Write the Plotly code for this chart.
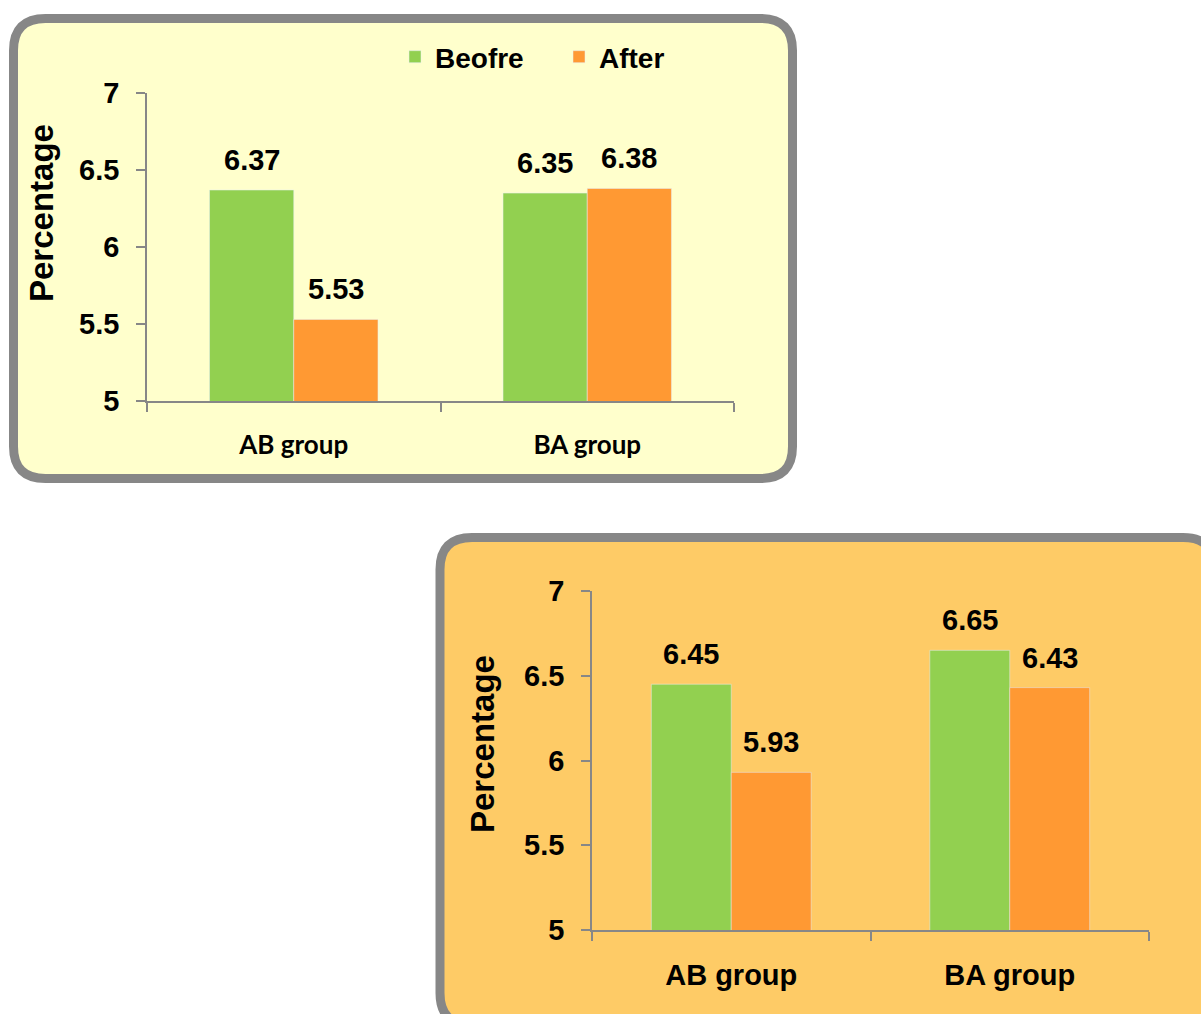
import plotly.graph_objects as go

# Data
groups = ["AB group", "BA group"]
series_names = ["Beofre", "After"]
top_before = [6.37, 6.35]
top_after = [5.53, 6.38]
bottom_before = [6.45, 6.65]
bottom_after = [5.93, 6.43]
y_ticks = [5, 5.5, 6, 6.5, 7]
y_title = "Percentage"

W, H = 1201, 1014
GREEN = "#92D050"
ORANGE = "#FF9933"
GRAY = "#878787"
BAR_GAP = 0.426
FONT = "Liberation Sans, Arial, sans-serif"


def px(x):
    return x / W


def py(y):
    return 1 - y / H


def rounded_rect(x0, y0, x1, y1, r):
    """SVG path (paper coords) for a rounded rectangle given in pixels."""
    pts = [
        f"M {px(x0 + r)},{py(y0)}",
        f"L {px(x1 - r)},{py(y0)}",
        f"Q {px(x1)},{py(y0)} {px(x1)},{py(y0 + r)}",
        f"L {px(x1)},{py(y1 - r)}",
        f"Q {px(x1)},{py(y1)} {px(x1 - r)},{py(y1)}",
        f"L {px(x0 + r)},{py(y1)}",
        f"Q {px(x0)},{py(y1)} {px(x0)},{py(y1 - r)}",
        f"L {px(x0)},{py(y0 + r)}",
        f"Q {px(x0)},{py(y0)} {px(x0 + r)},{py(y0)}",
        "Z",
    ]
    return " ".join(pts)


fig = go.Figure()

panels = [
    ("x", "y", top_before, top_after, True),
    ("x2", "y2", bottom_before, bottom_after, False),
]

for xa, ya, before, after, show in panels:
    fig.add_trace(go.Bar(x=groups, y=before, name=series_names[0], marker_color=GREEN,
                         xaxis=xa, yaxis=ya, showlegend=show, legendgroup="b"))
    fig.add_trace(go.Bar(x=groups, y=after, name=series_names[1], marker_color=ORANGE,
                         xaxis=xa, yaxis=ya, showlegend=show, legendgroup="a"))

# Value labels above each bar
annotations = []
half = (1 - BAR_GAP) / 2
for xa, ya, before, after, _ in panels:
    for j, vals in enumerate([before, after]):
        for i, v in enumerate(vals):
            annotations.append(dict(
                x=i + (j - 0.5) * half, y=v, xref=xa, yref=ya,
                text=f"{v:.2f}", showarrow=False, xanchor="center", yanchor="middle",
                yshift=30,
                font=dict(family=FONT, size=29, color="black", weight="bold"),
            ))

# Rotated axis titles
for cx, cy in [(42, 213), (482, 744)]:
    annotations.append(dict(x=px(cx), y=py(cy), xref="paper", yref="paper", text=y_title,
                            textangle=-90, showarrow=False, xanchor="center", yanchor="middle",
                            font=dict(family=FONT, size=33, color="black", weight="bold")))

# Panel backgrounds
shapes = [
    dict(type="path", path=rounded_rect(13.5, 18.5, 792.5, 478.5, 32), xref="paper", yref="paper",
         fillcolor="#FFFFCC", line=dict(color=GRAY, width=9), layer="below"),
    dict(type="path", path=rounded_rect(440, 537.5, 1215, 1025, 32), xref="paper", yref="paper",
         fillcolor="#FECB66", line=dict(color=GRAY, width=9), layer="below"),
]

yaxis_common = dict(
    range=[5, 7], tickvals=y_ticks, showgrid=False, zeroline=False, automargin=False,
    showline=True, linecolor=GRAY, linewidth=1.5,
    ticks="outside", ticklen=9, tickcolor=GRAY, tickwidth=1.5, ticklabelstandoff=11,
    tickfont=dict(family=FONT, size=29, color="black", weight="bold"),
)
xaxis_common = dict(
    showgrid=False, zeroline=False, showline=True, linecolor=GRAY, linewidth=1.5,
    automargin=False, ticks="outside", ticklen=9, tickcolor=GRAY, tickwidth=1.5,
    tickson="boundaries",
)

fig.update_layout(
    width=W, height=H,
    margin=dict(l=0, r=0, t=0, b=0, autoexpand=False),
    paper_bgcolor="white", plot_bgcolor="white",
    barmode="group", bargap=BAR_GAP, bargroupgap=0,
    xaxis=dict(domain=[px(147), px(734)], anchor="y", ticklabelstandoff=20,
               tickfont=dict(family="Lato, sans-serif", size=26, color="black", weight="bold"),
               **xaxis_common),
    yaxis=dict(domain=[py(401), py(93)], anchor="x", **yaxis_common),
    xaxis2=dict(domain=[px(592), px(1149)], anchor="y2", ticklabelstandoff=18,
                tickfont=dict(family=FONT, size=29, color="black", weight="bold"),
                **xaxis_common),
    yaxis2=dict(domain=[py(930), py(591)], anchor="x2", **yaxis_common),
    legend=dict(orientation="h", x=px(395), y=py(57), xanchor="left", yanchor="middle",
                bgcolor="rgba(0,0,0,0)", entrywidth=119, traceorder="normal",
                font=dict(family=FONT, size=28, color="black", weight="bold")),
    annotations=annotations,
    shapes=shapes,
)

fig.write_html("out.html")
